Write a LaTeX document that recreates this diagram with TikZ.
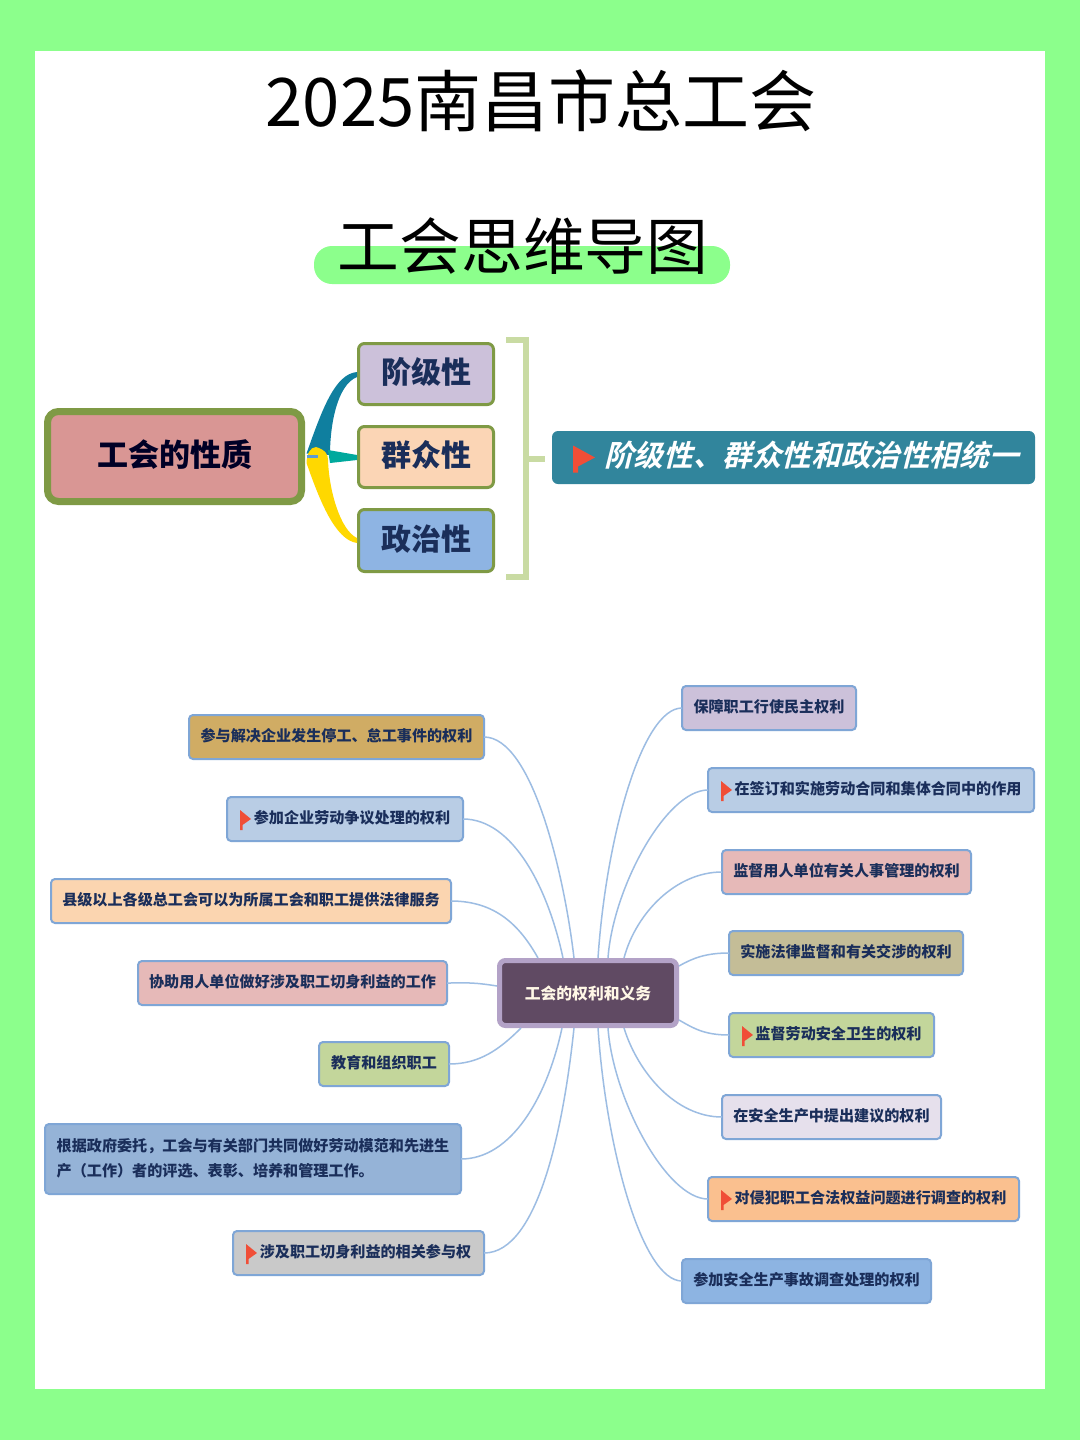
\documentclass[tikz,border=0pt]{standalone}
\usepackage{fontspec}
\setmainfont{Noto Sans CJK SC}
\newfontfamily\slantcjk[FakeSlant=0.25,BoldFont={Noto Sans CJK SC Bold},BoldFeatures={FakeSlant=0.25}]{Noto Sans CJK SC}
\definecolor{pagegreen}{HTML}{8CFF8C}
\definecolor{olive}{HTML}{7F9A45}
\definecolor{bracketgreen}{HTML}{C9DBA3}
\definecolor{inktext}{HTML}{1A2E5A}
\definecolor{linkblue}{HTML}{9DBDE3}
\definecolor{boxedge}{HTML}{7FA6D6}
\definecolor{flagred}{HTML}{F04E37}
\definecolor{HTMLmain}{HTML}{D99694}
\definecolor{HTMLa}{HTML}{CCC1DA}
\definecolor{HTMLb}{HTML}{FBD5B5}
\definecolor{HTMLd}{HTML}{8EB4E3}
\definecolor{branchblue}{HTML}{0F7F9F}
\definecolor{branchteal}{HTML}{00A99D}
\definecolor{branchyellow}{HTML}{FFD800}
\definecolor{dashblue}{HTML}{5B9BD5}
\definecolor{HTMLtag}{HTML}{31859C}
\definecolor{HTMLc}{HTML}{604A63}
\definecolor{HTMLcedge}{HTML}{B3A2C7}
\definecolor{HTMLctext}{HTML}{FFF7E6}
\definecolor{HTMLlone}{HTML}{D0AC64}
\definecolor{HTMLltwo}{HTML}{B9CDE5}
\definecolor{HTMLlthree}{HTML}{FBD5B0}
\definecolor{HTMLlfour}{HTML}{E6B9B8}
\definecolor{HTMLlfive}{HTML}{C3D69B}
\definecolor{HTMLlsix}{HTML}{95B3D7}
\definecolor{HTMLlseven}{HTML}{C9C9C9}
\definecolor{HTMLrone}{HTML}{CCC1DA}
\definecolor{HTMLrtwo}{HTML}{B9CDE5}
\definecolor{HTMLrfour}{HTML}{C4BD97}
\definecolor{HTMLrsix}{HTML}{E6E0EC}
\definecolor{HTMLrseven}{HTML}{FAC08F}
\definecolor{HTMLreight}{HTML}{8DB4E2}
\tikzset{
  x=1pt,y=-1pt,
  mapbase/.style={draw=boxedge,line width=2pt,rounded corners=4pt,inner sep=0pt,outer sep=0pt,
    text=inktext,font=\bfseries\fontsize{15.1}{25}\selectfont},
  mapbox/.style={mapbase,text height=13pt,text depth=4pt},
  topbox/.style={draw=olive,line width=3pt,rounded corners=6pt,inner sep=0pt,outer sep=0pt,
    text=inktext,text height=26pt,text depth=7pt,font=\bfseries\fontsize{30}{34}\selectfont},
  link/.style={draw=linkblue,line width=1.5pt},
  headline/.style={inner sep=0pt,outer sep=0pt,text=black},
}
\newcommand{\bx}[7]{\node[mapbox,fill=#6,minimum width={#4-#2-2},minimum height={#5-#3-2}] (#1) at ({(#2+#4)/2},{(#3+#5)/2}) {#7};}
\newcommand{\tb}[7]{\node[topbox,fill=#6,minimum width={#4-#2-3},minimum height={#5-#3-3}] (#1) at ({(#2+#4)/2},{(#3+#5)/2}) {#7};}
\newcommand{\flagat}[1]{\fill[flagred,shift={(#1.west)}] (13,-9) -- (24,0) -- (15.5,6) -- (15.5,11) -- (13,11) -- cycle;}
\newcommand{\flagroom}{\hspace*{14pt}}
\begin{document}
\begin{tikzpicture}
\useasboundingbox (0,0) rectangle (1080,1440);
\fill[pagegreen] (0,0) rectangle (1080,1440);
\fill[white] (35,51) rectangle (1045,1389);
\fill[pagegreen,rounded corners=18pt] (314,246) rectangle (730,284);
\node[headline,font=\fontsize{67}{70}\selectfont] (title) at (541,101) {2025南昌市总工会};
\node[headline,font=\fontsize{61.7}{66}\selectfont] (subtitle) at (523,246) {工会思维导图};

% top map
\node[draw=olive,line width=7pt,rounded corners=11pt,fill=HTMLmain,inner sep=0pt,outer sep=0pt,minimum width=254,minimum height=90,
  text=black!85!blue,text height=27pt,text depth=8pt,font=\bfseries\fontsize{31}{34}\selectfont] (main) at (174.5,456.5) {工会的性质};
\tb{a}{357}{342}{495}{406}{HTMLa}{阶级性}
\tb{b}{357}{425}{495}{489}{HTMLb}{群众性}
\tb{d}{357}{508}{495}{573}{HTMLd}{政治性}
\coordinate (m) at ([xshift=5pt]main.east);

\fill[branchblue] ([yshift=3pt]m) .. controls +(16,-45) and +(-22,2) .. ([xshift=-1.5pt,yshift=2pt]a.west)
  -- ([xshift=-1.5pt,yshift=-3pt]a.west) .. controls +(-20,8) and +(0,-30) .. ([xshift=23.5pt,yshift=1.5pt]m) -- cycle;
\fill[branchteal] ([xshift=21.5pt,yshift=6.5pt]m) -- ([xshift=-1.5pt,yshift=2pt]b.west) -- ([xshift=-1.5pt,yshift=-3pt]b.west) -- ([xshift=23.5pt,yshift=-6.5pt]m) -- cycle;
\fill[branchyellow] ([yshift=-6.5pt]m) .. controls +(0,-8) and +(-6,0) .. ([xshift=9.5pt,yshift=9.5pt]m)
  .. controls +(10,3) and +(0,-5) .. ([xshift=21.5pt,yshift=-3.5pt]m)
  .. controls +(1,30) and +(-17,-8) .. ([xshift=-1.5pt,yshift=2.5pt]d.west)
  -- ([xshift=-1.5pt,yshift=-2.5pt]d.west)
  .. controls +(-22,-3) and +(13,37) .. ([yshift=-6.5pt]m) -- cycle;
\draw[dashblue,line width=3pt] (m) -- ([xshift=11pt]m);

\coordinate (bracketjoin) at (527,459);
\coordinate (bracketstub) at (545,459);
\draw[bracketgreen,line width=6pt] (506,340) -- (526,340) -- (526,577) -- (506,577);
\draw[bracketgreen,line width=6pt] (bracketjoin) -- (bracketstub);
\node[fill=HTMLtag,rounded corners=6pt,inner sep=0pt,outer sep=0pt,minimum width=483,minimum height=53,text=white,
  text height=26pt,text depth=8pt,font=\slantcjk\bfseries\fontsize{29.6}{34}\selectfont] (tag) at (793.5,457.5) {\hspace*{36pt}阶级性、群众性和政治性相统一};
\fill[flagred,shift={(tag.west)}] (21,-12) -- (43,0) -- (26,9) -- (26,15) -- (21,15) -- cycle;

% lower map
\node[draw=HTMLcedge,line width=5pt,fill=HTMLc,rounded corners=6pt,inner sep=0pt,outer sep=0pt,minimum width=177,minimum height=65,
  text=HTMLctext,text height=14pt,text depth=2pt,font=\bfseries\fontsize{15.8}{20}\selectfont] (c) at (588,993) {工会的权利和义务};

\bx{L1}{188}{714}{485}{760}{HTMLlone}{参与解决企业发生停工、怠工事件的权利}
\bx{L2}{226}{796}{464}{842}{HTMLltwo}{\flagroom 参加企业劳动争议处理的权利}
\bx{L3}{50}{878}{452}{924}{HTMLlthree}{县级以上各级总工会可以为所属工会和职工提供法律服务}
\bx{L4}{137}{960}{448}{1006}{HTMLlfour}{协助用人单位做好涉及职工切身利益的工作}
\bx{L5}{318}{1041}{450}{1087}{HTMLlfive}{教育和组织职工}
\node[mapbase,fill=HTMLlsix,minimum width=416,minimum height=70,align=left] (L6) at (253,1159)
  {根据政府委托，工会与有关部门共同做好劳动模范和先进生\\产（工作）者的评选、表彰、培养和管理工作。\rule[-4pt]{0pt}{4pt}};
\bx{L7}{232}{1230}{485}{1276}{HTMLlseven}{\flagroom 涉及职工切身利益的相关参与权}

\bx{R1}{681}{685}{857}{731}{HTMLrone}{保障职工行使民主权利}
\bx{R2}{707}{767}{1035}{813}{HTMLrtwo}{\flagroom 在签订和实施劳动合同和集体合同中的作用}
\bx{R3}{721}{849}{972}{895}{HTMLlfour}{监督用人单位有关人事管理的权利}
\bx{R4}{728}{930}{964}{976}{HTMLrfour}{实施法律监督和有关交涉的权利}
\bx{R5}{728}{1012}{935}{1058}{HTMLlfive}{\flagroom 监督劳动安全卫生的权利}
\bx{R6}{721}{1094}{942}{1140}{HTMLrsix}{在安全生产中提出建议的权利}
\bx{R7}{707}{1176}{1020}{1222}{HTMLrseven}{\flagroom 对侵犯职工合法权益问题进行调查的权利}
\bx{R8}{681}{1258}{932}{1304}{HTMLreight}{参加安全生产事故调查处理的权利}

\flagat{L2}\flagat{L7}\flagat{R2}\flagat{R5}\flagat{R7}

\draw[link] (L1.east) .. controls +(48,0) and +(-10,-85) .. ([xshift=-14pt,yshift=2.5pt]c.north);
\draw[link] (L2.east) .. controls +(50,0) and +(-15,-70) .. ([xshift=-25pt,yshift=2.5pt]c.north);
\draw[link] (L3.east) .. controls +(45,0) and +(-18,-32) .. ([xshift=-50pt,yshift=2.5pt]c.north);
\draw[link] (L4.east) .. controls +(20,0) and +(-25,-4) .. ([xshift=-2.5pt,yshift=7pt]c.west);
\draw[link] (L5.east) .. controls +(30,0) and +(-22,22) .. ([xshift=-67pt,yshift=-2.5pt]c.south);
\draw[link] (L6.east) .. controls +(50,0) and +(-15,70) .. ([xshift=-26pt,yshift=-2.5pt]c.south);
\draw[link] (L7.east) .. controls +(55,0) and +(-10,95) .. ([xshift=-14pt,yshift=-2.5pt]c.south);

\draw[link] (R1.west) .. controls +(-40,0) and +(8,-120) .. ([xshift=10pt,yshift=2.5pt]c.north);
\draw[link] (R2.west) .. controls +(-42,0) and +(5,-70) .. ([xshift=20pt,yshift=2.5pt]c.north);
\draw[link] (R3.west) .. controls +(-46,0) and +(12,-45) .. ([xshift=36pt,yshift=2.5pt]c.north);
\draw[link] (R4.west) .. controls +(-23,0) and +(14,-8) .. ([xshift=2.5pt,yshift=27pt]c.east);
\draw[link] (R5.west) .. controls +(-25,0) and +(14,8) .. ([xshift=2.5pt,yshift=-27pt]c.east);
\draw[link] (R6.west) .. controls +(-46,0) and +(14,45) .. ([xshift=36pt,yshift=-2.5pt]c.south);
\draw[link] (R7.west) .. controls +(-42,0) and +(5,70) .. ([xshift=20pt,yshift=-2.5pt]c.south);
\draw[link] (R8.west) .. controls +(-40,0) and +(8,120) .. ([xshift=10pt,yshift=-2.5pt]c.south);
\end{tikzpicture}
\end{document}
